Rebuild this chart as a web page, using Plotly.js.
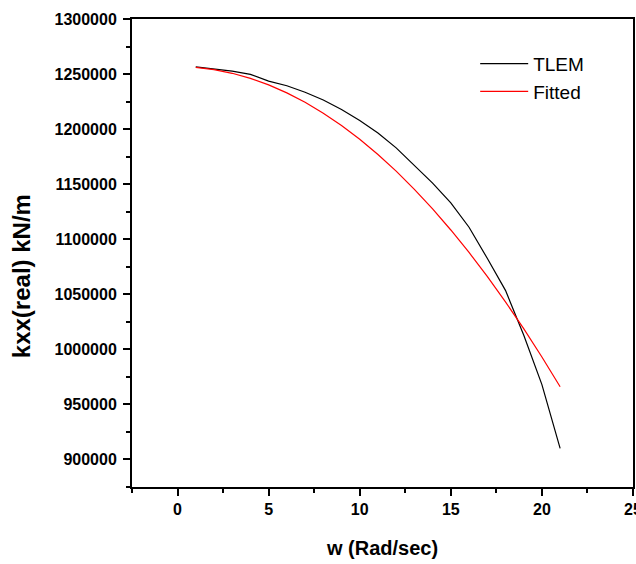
<!DOCTYPE html>
<html>
<head>
<meta charset="utf-8">
<script src="https://cdn.plot.ly/plotly-3.0.1.min.js"></script>
<style>
html,body{margin:0;padding:0;background:#fff;}
#chart{width:636px;height:564px;}
</style>
</head>
<body>
<div id="chart"></div>
<script>
// w (Rad/sec)
const w = [1, 2, 3, 4, 5, 6, 7, 8, 9, 10, 11, 12, 13, 14, 15, 16, 17, 18, 19, 20, 21];
// kxx(real) kN/m, TLEM
const tlem = [1256500, 1254500, 1252700, 1249700, 1243600, 1239400, 1233500, 1226500, 1217900, 1207800,
              1196500, 1183000, 1167300, 1151000, 1133000, 1110900, 1082700, 1053600, 1013000, 968000, 910000];
// kxx(real) kN/m, Fitted
const fitted = [1256000, 1254000, 1250700, 1246100, 1240200, 1232900, 1224400, 1214500, 1203300, 1190800,
                1176900, 1161800, 1145300, 1127500, 1108400, 1088000, 1066200, 1043100, 1018800, 993100, 966000];
const seriesNames = ['TLEM', 'Fitted'];
const xTickVals = [0, 5, 10, 15, 20, 25];
const xTickText = ['0', '5', '10', '15', '20', '25'];
const yTickVals = [900000, 950000, 1000000, 1050000, 1100000, 1150000, 1200000, 1250000, 1300000];
const yTickText = ['900000', '950000', '1000000', '1050000', '1100000', '1150000', '1200000', '1250000', '1300000'];
const xTitle = 'w (Rad/sec)';
const yTitle = 'kxx(real) kN/m';

const FONT = 'Liberation Sans, Arial, sans-serif';

const traces = [
  {x: w, y: tlem, name: seriesNames[0], type: 'scatter', mode: 'lines',
   line: {color: '#000000', width: 1.2}},
  {x: w, y: fitted, name: seriesNames[1], type: 'scatter', mode: 'lines',
   line: {color: '#ff0000', width: 1.2}}
];

const layout = {
  width: 636, height: 564,
  margin: {l: 132, r: 3, t: 19, b: 77},
  paper_bgcolor: '#ffffff', plot_bgcolor: '#ffffff',
  font: {family: FONT, color: '#000000'},
  showlegend: true,
  legend: {x: 0.685, y: 0.945, xanchor: 'left', yanchor: 'top',
           bgcolor: 'rgba(0,0,0,0)', borderwidth: 0, itemwidth: 48, tracegroupgap: 0,
           font: {family: FONT, size: 19, color: '#000000'}},
  xaxis: {
    range: [-2.5, 25], tickmode: 'array', tickvals: xTickVals, ticktext: xTickText,
    showgrid: false, zeroline: false, ticklabeloverflow: 'allow',
    showline: true, linecolor: '#000', linewidth: 2, mirror: true,
    ticks: 'outside', ticklen: 7, tickwidth: 2, tickcolor: '#000',
    minor: {tickmode: 'linear', dtick: 2.5, tick0: 0, ticks: 'outside', ticklen: 4, tickwidth: 2, tickcolor: '#000', showgrid: false},
    tickfont: {family: FONT, size: 16, weight: 'bold', color: '#000'},
    title: {text: xTitle, font: {family: FONT, size: 20, weight: 'bold'}, standoff: 24}
  },
  yaxis: {
    range: [875000, 1300000], tickmode: 'array', tickvals: yTickVals, ticktext: yTickText,
    showgrid: false, zeroline: false, ticklabelstandoff: 3,
    showline: true, linecolor: '#000', linewidth: 2, mirror: true,
    ticks: 'outside', ticklen: 7, tickwidth: 2, tickcolor: '#000',
    minor: {tickmode: 'linear', dtick: 25000, tick0: 0, ticks: 'outside', ticklen: 4, tickwidth: 2, tickcolor: '#000', showgrid: false},
    tickfont: {family: FONT, size: 16, weight: 'bold', color: '#000'}
  },
  annotations: [{
    text: yTitle, xref: 'paper', yref: 'paper',
    x: -0.22, y: 0.45, xanchor: 'center', yanchor: 'middle',
    textangle: -90, showarrow: false,
    font: {family: FONT, size: 24, weight: 'bold', color: '#000'}
  }]
};

Plotly.newPlot('chart', traces, layout, {displayModeBar: false, staticPlot: true});
</script>
</body>
</html>
